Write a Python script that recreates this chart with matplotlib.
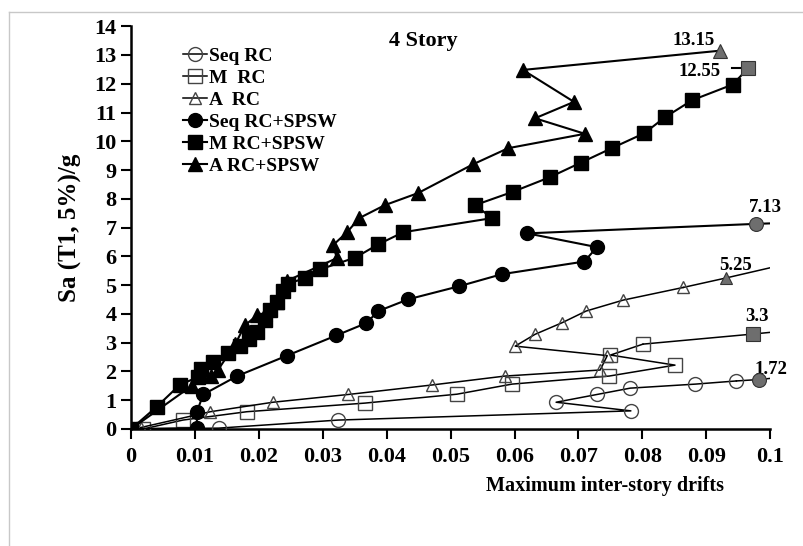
import matplotlib.pyplot as plt
from matplotlib.lines import Line2D

plt.rcParams['font.family'] = ['Liberation Serif', 'DejaVu Serif']
plt.rcParams['font.weight'] = 'bold'

# bare RC frames (open markers)
seq_rc_x = [0, 0.0137, 0.0324, 0.0782, 0.0665, 0.0729, 0.0781, 0.0883, 0.0947, 0.0983]
seq_rc_y = [0, 0.03, 0.31, 0.63, 0.93, 1.20, 1.42, 1.56, 1.67, 1.72]

m_rc_x = [0.0019, 0.0081, 0.0181, 0.0366, 0.0510, 0.0596, 0.0748, 0.0851, 0.0750, 0.0801, 0.0973]
m_rc_y = [0, 0.31, 0.60, 0.90, 1.21, 1.56, 1.84, 2.22, 2.57, 2.95, 3.30]

a_rc_x = [0.0015, 0.0124, 0.0222, 0.0340, 0.0471, 0.0585, 0.0734, 0.0745, 0.0601, 0.0632,
          0.0674, 0.0712, 0.0770, 0.0864, 0.0931]
a_rc_y = [0.05, 0.60, 0.93, 1.20, 1.53, 1.84, 2.05, 2.55, 2.88, 3.29, 3.69, 4.10, 4.48, 4.92, 5.25]

# RC + steel plate shear wall (filled markers)
seq_sp_x = [0, 0.0103, 0.0103, 0.0113, 0.0166, 0.0244, 0.0321, 0.0368, 0.0387, 0.0434, 0.0513,
            0.0580, 0.0709, 0.0729, 0.0620, 0.0978]
seq_sp_y = [0, 0.03, 0.60, 1.20, 1.84, 2.55, 3.25, 3.68, 4.10, 4.51, 4.96, 5.38, 5.82, 6.32,
            6.80, 7.13]

m_sp_x = [0, 0.0040, 0.0076, 0.0104, 0.0110, 0.0128, 0.0152, 0.0170, 0.0185, 0.0197, 0.0210,
          0.0217, 0.0228, 0.0238, 0.0245, 0.0272, 0.0296, 0.0351, 0.0387, 0.0426, 0.0565, 0.0538,
          0.0598, 0.0655, 0.0704, 0.0753, 0.0803, 0.0835, 0.0878, 0.0941, 0.0966]
m_sp_y = [0, 0.77, 1.53, 1.80, 2.10, 2.33, 2.65, 2.90, 3.12, 3.37, 3.78, 4.13, 4.41, 4.80, 5.05,
          5.24, 5.55, 5.96, 6.42, 6.84, 7.33, 7.78, 8.25, 8.75, 9.26, 9.77, 10.28, 10.83, 11.43,
          11.97, 12.55]

a_sp_x = [0, 0.0095, 0.0125, 0.0136, 0.0163, 0.0178, 0.0197, 0.0210, 0.0228, 0.0244, 0.0322,
          0.0316, 0.0338, 0.0357, 0.0397, 0.0449, 0.0535, 0.0590, 0.0710, 0.0632, 0.0693, 0.0613,
          0.0922]
a_sp_y = [0, 1.50, 1.85, 2.05, 2.95, 3.60, 3.95, 4.00, 4.40, 5.15, 5.94, 6.39, 6.84, 7.33, 7.78,
          8.20, 9.20, 9.76, 10.26, 10.80, 11.37, 12.48, 13.15]

# short line pieces running past the last marker
tails = {
    'Seq RC': ([0.0983, 0.1005], [1.72, 1.77]),
    'M  RC': ([0.0973, 0.1005], [3.30, 3.37]),
    'A  RC': ([0.0931, 0.1005], [5.25, 5.63]),
    'Seq RC+SPSW': ([0.0978, 0.1005], [7.13, 7.15]),
    'M RC+SPSW': ([0.0966, 0.0940], [12.55, 12.55]),
}

end_labels = ['1.72', '3.3', '5.25', '7.13', '12.55', '13.15']
label_pos = [(0.1001, 2.08), (0.0980, 3.90), (0.0945, 5.70), (0.0993, 7.70), (0.0890, 12.42), (0.0880, 13.50)]

series = [
    ('Seq RC', seq_rc_x, seq_rc_y, 'o', False, 10),
    ('M  RC', m_rc_x, m_rc_y, 's', False, 10),
    ('A  RC', a_rc_x, a_rc_y, '^', False, 9),
    ('Seq RC+SPSW', seq_sp_x, seq_sp_y, 'o', True, 10),
    ('M RC+SPSW', m_sp_x, m_sp_y, 's', True, 9.5),
    ('A RC+SPSW', a_sp_x, a_sp_y, '^', True, 9.5),
]

fig = plt.figure(figsize=(8.04, 5.46), dpi=100)
ax = fig.add_axes([0.163, 0.2143, 0.795, 0.7377])

handles = []
for name, xs, ys, mk, filled, ms in series:
    lw = 1.5 if filled else 1.1
    if name in tails:
        tx, ty = tails[name]
        ax.plot(tx, ty, color='black', lw=lw, zorder=2)
    if filled:
        h, = ax.plot(xs[:-1], ys[:-1], color='black', lw=lw, marker=mk, ms=ms,
                     mfc='black', mec='black', zorder=3, label=name)
    else:
        h, = ax.plot(xs[:-1], ys[:-1], color='black', lw=lw, marker=mk, ms=ms,
                     mfc='none', mec='#444444', mew=1.0, zorder=3, label=name)
    ax.plot(xs[-2:], ys[-2:], color='black', lw=lw, zorder=2)
    ax.plot(xs[-1], ys[-1], marker=mk, ms=ms, mfc='#6e6e6e', mec='#333333', mew=0.8,
            ls='none', zorder=4)
    handles.append(h)

for txt, (lx, ly) in zip(end_labels, label_pos):
    ax.text(lx, ly, txt, fontsize=13.5, fontweight='bold', ha='center', va='center')

ax.text(0.0457, 13.5, '4 Story', fontsize=16, fontweight='bold', ha='center', va='center')

ax.set_xlim(0, 0.1)
ax.set_ylim(0, 14)
ax.set_xticks([i / 100 for i in range(11)])
ax.set_xticklabels(['0'] + ['%.2f' % (i / 100) for i in range(1, 10)] + ['0.1'])
ax.set_yticks(range(15))
ax.tick_params(axis='both', labelsize=16, width=1.5, length=7, direction='out')
ax.tick_params(axis='x', pad=6)
for lab in ax.get_xticklabels() + ax.get_yticklabels():
    lab.set_fontweight('bold')
ax.spines['top'].set_visible(False)
ax.spines['right'].set_visible(False)
ax.spines['left'].set_linewidth(1.8)
ax.spines['bottom'].set_linewidth(1.8)

ax.set_ylabel('Sa (T1, 5%)/g', fontsize=18, fontweight='bold', labelpad=9)
fig.text(0.7525, 0.11, 'Maximum inter-story drifts', fontsize=14.5, fontweight='bold',
         ha='center', va='center')

leg = fig.legend(handles=handles, loc='upper left', bbox_to_anchor=(0.228, 0.913),
                 frameon=False, fontsize=14, handlelength=1.2, handletextpad=0.1,
                 labelspacing=0.22, borderaxespad=0, borderpad=0)

# light frame around the figure
fig.add_artist(Line2D([0.0112, 0.0112], [0, 0.978], color='#c8c8c8', lw=1))
fig.add_artist(Line2D([0.0112, 1], [0.978, 0.978], color='#c8c8c8', lw=1))

fig.savefig('out.png', dpi=100)
